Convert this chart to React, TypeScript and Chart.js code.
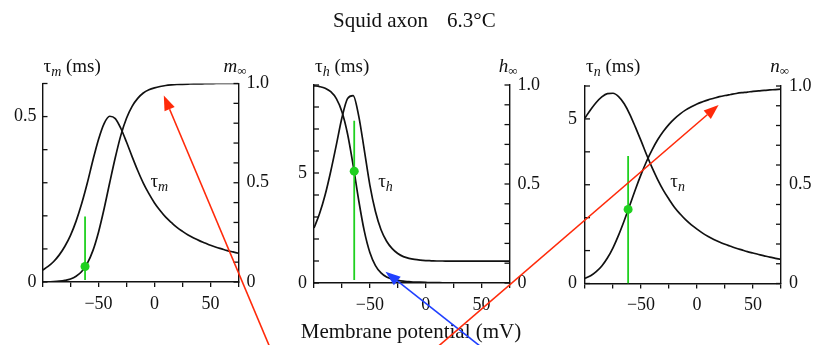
import React, { useEffect, useRef } from 'react';
import { Chart, registerables } from 'chart.js';
Chart.register(...registerables);

// ---------- data ----------
const voltages = [-100, -95, -90, -85, -80, -75, -70, -65, -60, -55, -50, -45, -40, -35, -30, -25, -20, -15, -10, -5, 0, 5, 10, 15, 20, 25, 30, 35, 40, 45, 50, 55, 60, 65, 70, 75];
const tauM = [0.036, 0.047, 0.062, 0.082, 0.108, 0.141, 0.184, 0.237, 0.299, 0.368, 0.431, 0.479, 0.501, 0.494, 0.464, 0.423, 0.379, 0.337, 0.299, 0.267, 0.239, 0.216, 0.196, 0.180, 0.165, 0.153, 0.142, 0.133, 0.125, 0.118, 0.111, 0.105, 0.100, 0.095, 0.091, 0.087];
const mInf = [0.001, 0.001, 0.002, 0.004, 0.008, 0.015, 0.029, 0.053, 0.094, 0.158, 0.251, 0.369, 0.500, 0.627, 0.740, 0.825, 0.885, 0.925, 0.952, 0.968, 0.978, 0.985, 0.990, 0.993, 0.995, 0.996, 0.997, 0.998, 0.998, 0.999, 0.999, 1.0, 1.0, 1.0, 1.0, 1.0];
const tauH = [2.5, 3.16, 4.01, 5.08, 6.28, 7.51, 8.38, 8.52, 7.6, 6.05, 4.45, 3.25, 2.42, 1.90, 1.56, 1.34, 1.20, 1.12, 1.07, 1.04, 1.02, 1.01, 1.0, 1.0, 0.99, 0.99, 0.99, 0.99, 0.99, 0.99, 0.99, 0.99, 0.99, 0.99, 0.99, 0.99];
const hInf = [0.996, 0.992, 0.984, 0.966, 0.931, 0.865, 0.754, 0.596, 0.418, 0.263, 0.154, 0.088, 0.051, 0.030, 0.019, 0.013, 0.009, 0.007, 0.005, 0.004, 0.003, 0.002, 0.002, 0.001, 0.001, 0.001, 0.001, 0.0, 0.0, 0.0, 0.0, 0.0, 0.0, 0.0, 0.0, 0.0];
const tauN = [5.03, 5.28, 5.50, 5.67, 5.77, 5.78, 5.68, 5.46, 5.14, 4.75, 4.34, 3.91, 3.51, 3.15, 2.83, 2.56, 2.31, 2.11, 1.93, 1.78, 1.65, 1.53, 1.43, 1.34, 1.26, 1.19, 1.13, 1.07, 1.02, 0.97, 0.925, 0.88, 0.84, 0.80, 0.765, 0.73];
const nInf = [0.026, 0.039, 0.060, 0.089, 0.129, 0.181, 0.245, 0.318, 0.396, 0.476, 0.551, 0.619, 0.678, 0.729, 0.771, 0.806, 0.835, 0.859, 0.879, 0.895, 0.909, 0.920, 0.930, 0.938, 0.946, 0.952, 0.957, 0.962, 0.966, 0.969, 0.973, 0.975, 0.978, 0.980, 0.982, 0.984];

// resting-potential markers: [voltage, line low, line high, dot value] (steady-state axis)
const restM = [-62, 0.01, 0.33, 0.078];
const restH = [-64, 0.015, 0.82, 0.565];
const restN = [-61.5, 0.0, 0.645, 0.375];

// arrow tips in data coordinates [voltage, steady-state value]
const arrowTipM = [8.3, 0.94];
const arrowTipH = [-36, 0.057];
const arrowTipN = [19.3, 0.904];

const xTickLabels: Record<string, string> = { '-50': '\u221250', '0': '0', '50': '50' };
const ssTickLabels: Record<string, string> = { '0': '0', '0.5': '0.5', '1': '1.0' };
const tauMTickLabels: Record<string, string> = { '0': '0', '0.5': '0.5' };
const tauHTickLabels: Record<string, string> = { '0': '0', '5': '5' };
const tauNTickLabels: Record<string, string> = { '0': '0', '5': '5' };

const titleText = 'Squid axon';
const tempText = '6.3°C';
const xAxisTitle = 'Membrane potential (mV)';

// ---------- layout ----------
const W = 815;
const H = 345;
const FONT = '"Liberation Serif", "Times New Roman", serif';
const INK = '#111';
const GREEN = '#1fd01f';
const RED = '#ff2a0a';
const BLUE = '#2040ff';
const AXW = 40;
const AXH = 40;

function pts(ys: number[]) {
  return voltages.map((v, i) => ({ x: v, y: ys[i] }));
}

function lookup(map: Record<string, string>, value: number) {
  for (const k of Object.keys(map)) {
    if (Math.abs(Number(k) - value) < 1e-6) return map[k];
  }
  return '';
}

interface Panel {
  L: number; R: number; T: number; B: number;
  tau: number[]; ss: number[];
  tauMax: number; tauStep: number; tauLabels: Record<string, string>;
  gate: string; rest: number[];
  labelAt: number[];
  leftPad: number; rightPad: number;
}

const panels: Panel[] = [
  { L: 42.5, R: 238.5, T: 83.5, B: 282, tau: tauM, ss: mInf, tauMax: 0.6, tauStep: 0.1, tauLabels: tauMTickLabels, gate: 'm', rest: restM, labelAt: [-3.6, 0.288], leftPad: 6, rightPad: 8 },
  { L: 314, R: 509.5, T: 85, B: 283, tau: tauH, ss: hInf, tauMax: 9, tauStep: 1, tauLabels: tauHTickLabels, gate: 'h', rest: restH, labelAt: [-42.5, 4.36], leftPad: 7, rightPad: 8 },
  { L: 585, R: 781, T: 86, B: 283.5, tau: tauN, ss: nInf, tauMax: 6, tauStep: 1, tauLabels: tauNTickLabels, gate: 'n', rest: restN, labelAt: [-23.8, 2.93], leftPad: 8, rightPad: 8 },
];

function drawArrow(ctx: CanvasRenderingContext2D, x0: number, y0: number, x1: number, y1: number, color: string) {
  const ang = Math.atan2(y1 - y0, x1 - x0);
  const len = 15;
  const hw = 5.5;
  const bx = x1 - len * Math.cos(ang);
  const by = y1 - len * Math.sin(ang);
  ctx.save();
  ctx.strokeStyle = color;
  ctx.lineWidth = 1.6;
  ctx.beginPath();
  ctx.moveTo(x0, y0);
  ctx.lineTo(bx, by);
  ctx.stroke();
  ctx.fillStyle = color;
  ctx.beginPath();
  ctx.moveTo(x1, y1);
  ctx.lineTo(bx + hw * Math.sin(ang), by - hw * Math.cos(ang));
  ctx.lineTo(bx - hw * Math.sin(ang), by + hw * Math.cos(ang));
  ctx.closePath();
  ctx.fill();
  ctx.restore();
}

function makeChart(canvas: HTMLCanvasElement, p: Panel, extraPlugins: any[]) {
  const decor = {
    id: 'decor',
    afterDraw(chart: any) {
      const ctx = chart.ctx as CanvasRenderingContext2D;
      const a = chart.chartArea;
      ctx.save();
      // inward y ticks
      ctx.strokeStyle = INK;
      ctx.lineWidth = 1.3;
      for (const id of ['yL', 'yR']) {
        const s = chart.scales[id];
        s.ticks.forEach((t: any) => {
          const y = s.getPixelForValue(t.value);
          ctx.beginPath();
          if (id === 'yL') { ctx.moveTo(a.left, y); ctx.lineTo(a.left + 5, y); }
          else { ctx.moveTo(a.right, y); ctx.lineTo(a.right - 5, y); }
          ctx.stroke();
        });
      }
      ctx.fillStyle = INK;
      ctx.textBaseline = 'alphabetic';
      ctx.textAlign = 'left';
      // left axis title: tau_g (ms)
      let x = a.left + 1;
      const base = 72;
      ctx.font = `19px ${FONT}`;
      ctx.fillText('τ', x, base);
      x += ctx.measureText('τ').width;
      ctx.font = `italic 14px ${FONT}`;
      ctx.fillText(p.gate, x, base + 4);
      x += ctx.measureText(p.gate).width;
      ctx.font = `19px ${FONT}`;
      ctx.fillText(' (ms)', x, base);
      // right axis title: g_inf
      ctx.font = `italic 19px ${FONT}`;
      const gw = ctx.measureText(p.gate).width;
      ctx.font = `13px ${FONT}`;
      const iw = ctx.measureText('∞').width;
      let rx = a.right + 8 - gw - iw;
      ctx.font = `italic 19px ${FONT}`;
      ctx.fillText(p.gate, rx, base);
      rx += gw;
      ctx.font = `13px ${FONT}`;
      ctx.fillText('∞', rx, base + 3);
      // curve label
      const lx = chart.scales.x.getPixelForValue(p.labelAt[0]);
      const ly = chart.scales.yL.getPixelForValue(p.labelAt[1]);
      ctx.font = `19px ${FONT}`;
      ctx.fillText('τ', lx, ly);
      const tw = ctx.measureText('τ').width;
      ctx.font = `italic 14px ${FONT}`;
      ctx.fillText(p.gate, lx + tw, ly + 4);
      ctx.restore();
    },
  };

  return new Chart(canvas, {
    type: 'line',
    data: {
      datasets: [
        {
          data: [{ x: p.rest[0], y: p.rest[3] }],
          yAxisID: 'yR',
          showLine: false,
          pointRadius: 4.5,
          pointBackgroundColor: GREEN,
          pointBorderWidth: 0,
          borderColor: GREEN,
        },
        {
          data: [{ x: p.rest[0], y: p.rest[1] }, { x: p.rest[0], y: p.rest[2] }],
          yAxisID: 'yR',
          borderColor: GREEN,
          borderWidth: 1.8,
          pointRadius: 0,
        },
        {
          data: pts(p.tau),
          yAxisID: 'yL',
          borderColor: INK,
          borderWidth: 1.7,
          pointRadius: 0,
          cubicInterpolationMode: 'monotone',
        },
        {
          data: pts(p.ss),
          yAxisID: 'yR',
          borderColor: INK,
          borderWidth: 1.7,
          pointRadius: 0,
          cubicInterpolationMode: 'monotone',
        },
      ] as any,
    },
    options: {
      responsive: false,
      animation: false,
      devicePixelRatio: 1,
      events: [],
      layout: {
        padding: { left: p.L - AXW, right: W - p.R - AXW, top: p.T, bottom: H - p.B - AXH },
      },
      plugins: { legend: { display: false }, tooltip: { enabled: false }, title: { display: false } },
      scales: {
        x: {
          type: 'linear',
          min: -100,
          max: 75,
          afterFit: (s: any) => { s.height = AXH; },
          border: { display: true, color: INK, width: 1.4 },
          grid: { display: true, drawOnChartArea: false, drawTicks: true, tickLength: 5, color: INK, lineWidth: 1.3 },
          ticks: {
            stepSize: 25,
            autoSkip: false,
            maxRotation: 0,
            padding: 6,
            color: INK,
            font: { family: FONT, size: 18 },
            callback: (v: any) => lookup(xTickLabels, Number(v)),
          },
        },
        yL: {
          type: 'linear',
          position: 'left',
          min: 0,
          max: p.tauMax,
          afterFit: (s: any) => { s.width = AXW; },
          border: { display: true, color: INK, width: 1.4 },
          grid: { display: false, drawTicks: false },
          ticks: {
            stepSize: p.tauStep,
            autoSkip: false,
            padding: p.leftPad,
            color: INK,
            font: { family: FONT, size: 18 },
            callback: (v: any) => lookup(p.tauLabels, Number(v)),
          },
        },
        yR: {
          type: 'linear',
          position: 'right',
          min: 0,
          max: 1,
          afterFit: (s: any) => { s.width = AXW; },
          border: { display: true, color: INK, width: 1.4 },
          grid: { display: false, drawTicks: false },
          ticks: {
            stepSize: 0.1,
            autoSkip: false,
            padding: p.rightPad,
            color: INK,
            font: { family: FONT, size: 18 },
            callback: (v: any) => lookup(ssTickLabels, Number(v)),
          },
        },
      },
    } as any,
    plugins: [decor, ...extraPlugins],
  });
}

export default function App() {
  const r1 = useRef<HTMLCanvasElement>(null);
  const r2 = useRef<HTMLCanvasElement>(null);
  const r3 = useRef<HTMLCanvasElement>(null);

  useEffect(() => {
    const c1 = makeChart(r1.current!, panels[0], []);
    const c2 = makeChart(r2.current!, panels[1], []);
    const overlay = {
      id: 'overlay',
      afterDraw(chart: any) {
        const ctx = chart.ctx as CanvasRenderingContext2D;
        ctx.save();
        ctx.fillStyle = INK;
        ctx.textBaseline = 'alphabetic';
        ctx.textAlign = 'left';
        ctx.font = `21px ${FONT}`;
        ctx.fillText(titleText, 333, 27);
        ctx.fillText(tempText, 447, 27);
        ctx.textAlign = 'center';
        ctx.fillText(xAxisTitle, 411, 338);
        ctx.restore();
        const t1x = c1.scales.x.getPixelForValue(arrowTipM[0]);
        const t1y = c1.scales.yR.getPixelForValue(arrowTipM[1]);
        drawArrow(ctx, 271, 350, t1x, t1y, RED);
        const t2x = c2.scales.x.getPixelForValue(arrowTipH[0]);
        const t2y = c2.scales.yR.getPixelForValue(arrowTipH[1]);
        drawArrow(ctx, 485, 350, t2x, t2y, BLUE);
        const t3x = chart.scales.x.getPixelForValue(arrowTipN[0]);
        const t3y = chart.scales.yR.getPixelForValue(arrowTipN[1]);
        drawArrow(ctx, 434, 350, t3x, t3y, RED);
      },
    };
    const c3 = makeChart(r3.current!, panels[2], [overlay]);
    return () => { c1.destroy(); c2.destroy(); c3.destroy(); };
  }, []);

  const cs: React.CSSProperties = { position: 'absolute', left: 0, top: 0, width: W, height: H };
  return (
    <div style={{ position: 'absolute', left: 0, top: 0, width: W, height: H, background: '#fff', overflow: 'hidden' }}>
      <canvas ref={r1} width={W} height={H} style={cs} />
      <canvas ref={r2} width={W} height={H} style={cs} />
      <canvas ref={r3} width={W} height={H} style={cs} />
    </div>
  );
}
